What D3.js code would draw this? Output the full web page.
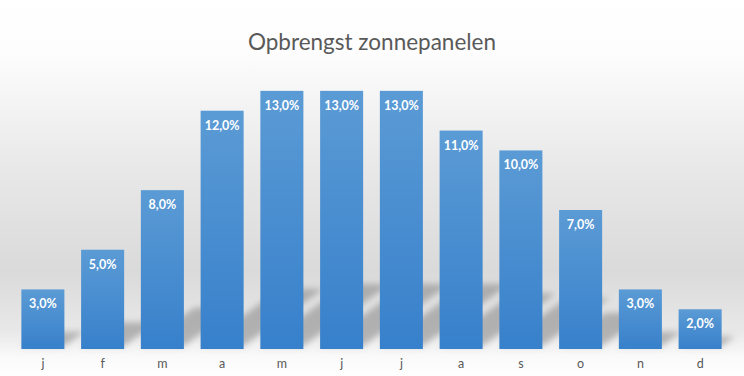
<!DOCTYPE html>
<html>
<head>
<meta charset="utf-8">
<script src="https://cdn.jsdelivr.net/npm/d3@7"></script>
<style>
  body { margin: 0; background: #fff; }
  svg { display: block; }
</style>
</head>
<body>
<div id="chart"></div>
<script>
// DATA
const months = ["j", "f", "m", "a", "m", "j", "j", "a", "s", "o", "n", "d"];
const yieldPct = [3, 5, 8, 12, 13, 13, 13, 11, 10, 7, 3, 2];
const title = "Opbrengst zonnepanelen";

const w = 744, h = 376;
const margin = { top: 71, right: 14, bottom: 27, left: 13 };

const svg = d3.select("#chart").append("svg")
    .attr("width", w)
    .attr("height", h);

const defs = svg.append("defs");

// background gradient
const bg = defs.append("linearGradient")
    .attr("id", "bg").attr("x1", 0).attr("y1", 0).attr("x2", 0).attr("y2", 1);
[[0, "#ffffff"], [0.14, "#fdfdfd"], [0.45, "#e8e8e8"], [0.72, "#dadada"], [0.88, "#e8e8e8"], [0.95, "#fafafa"], [1, "#ffffff"]]
    .forEach(s => bg.append("stop").attr("offset", s[0]).attr("stop-color", s[1]));

// bar gradient
const bar = defs.append("linearGradient")
    .attr("id", "bar").attr("x1", 0).attr("y1", 0).attr("x2", 0).attr("y2", 1);
bar.append("stop").attr("offset", 0).attr("stop-color", "#5b9bd5");
bar.append("stop").attr("offset", 1).attr("stop-color", "#3780cb");

defs.append("filter").attr("id", "blur")
    .attr("x", "-50%").attr("y", "-50%").attr("width", "200%").attr("height", "200%")
    .append("feGaussianBlur").attr("stdDeviation", 3);

svg.append("rect").attr("width", w).attr("height", h).attr("fill", "url(#bg)");

// SCALES
const x = d3.scaleBand()
    .domain(d3.range(months.length))
    .range([margin.left, w - margin.right])
    .paddingInner(0.28)
    .paddingOuter(0.14);

const y = d3.scaleLinear()
    .domain([0, 14])
    .range([h - margin.bottom, margin.top]);

const base = y(0);

// SHADOWS (perspective, falling to the upper right)
svg.append("g")
    .attr("filter", "url(#blur)")
    .selectAll("path")
    .data(yieldPct)
    .join("path")
    .attr("d", (d, i) => {
        const x0 = x(i), x1 = x(i) + x.bandwidth();
        const s = (base - y(d)) * 0.24;
        const dx = s * 1.4;
        const b = base - 3;
        return `M${x0},${b} L${x1},${b} L${x1 + dx},${b - s} L${x0 + dx},${b - s} Z`;
    })
    .attr("fill", "#7a7a7a")
    .attr("opacity", 0.5);

// BARS
svg.append("g")
    .selectAll("rect")
    .data(yieldPct)
    .join("rect")
    .attr("x", (d, i) => x(i))
    .attr("y", d => y(d))
    .attr("width", x.bandwidth())
    .attr("height", d => base - y(d))
    .attr("fill", "url(#bar)");

// VALUE LABELS
svg.append("g")
    .selectAll("text")
    .data(yieldPct)
    .join("text")
    .attr("x", (d, i) => x(i) + x.bandwidth() / 2)
    .attr("y", d => y(d) + 19)
    .attr("text-anchor", "middle")
    .style("font-family", "Lato, 'Open Sans', sans-serif")
    .style("font-weight", "bold")
    .style("font-size", "12.5px")
    .style("fill", "#ffffff")
    .text(d => d.toFixed(1).replace(".", ",") + "%");

// X AXIS
const xAxis = svg.append("g")
    .attr("transform", "translate(0," + base + ")")
    .call(d3.axisBottom(x).tickFormat(i => months[i]).tickSize(0).tickPadding(10));
xAxis.select(".domain").remove();
xAxis.selectAll("text")
    .style("font-family", "Lato, 'Open Sans', sans-serif")
    .style("font-size", "12.5px")
    .style("fill", "#595959");

// TITLE
svg.append("text")
    .attr("x", w / 2)
    .attr("y", 50)
    .attr("text-anchor", "middle")
    .style("font-family", "Lato, 'Open Sans', sans-serif")
    .style("font-size", "22.5px")
    .style("fill", "#595959")
    .text(title);
</script>
</body>
</html>
